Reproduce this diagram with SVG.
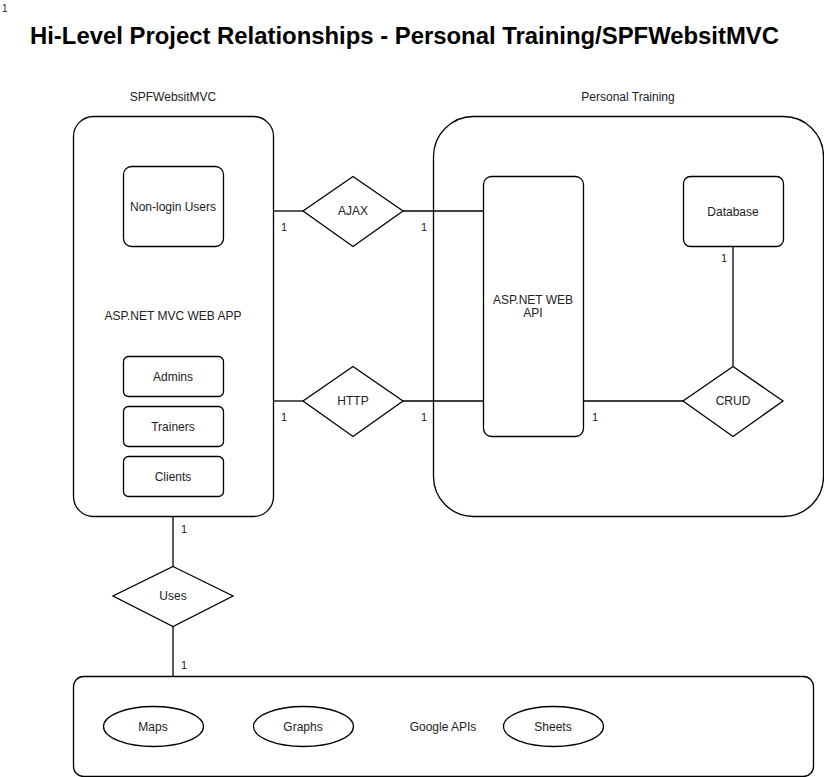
<svg xmlns="http://www.w3.org/2000/svg" width="824" height="777" viewBox="0 0 824 777">
<style>
.shape{fill:#fff;stroke:#000;stroke-width:1.3}
.line{fill:none;stroke:#000;stroke-width:1.3}
text{font-family:"Liberation Sans",Arial,sans-serif;font-size:12px;fill:#222}
.c{text-anchor:middle;dominant-baseline:central}
.lbl{font-size:11px}
.title{font-size:23px;font-weight:bold;fill:#000}
</style>
<rect width="824" height="777" fill="#fff"/>
<text x="2" y="12" class="lbl" style="font-size:10px">1</text>
<text x="30" y="44" class="title" textLength="749" lengthAdjust="spacingAndGlyphs">Hi-Level Project Relationships - Personal Training/SPFWebsitMVC</text>

<g id="spf">
<rect class="shape" x="73.5" y="116.5" width="200" height="400" rx="20"/>
<text x="173" y="97" class="c">SPFWebsitMVC</text>
<text x="173" y="316" class="c">ASP.NET MVC WEB APP</text>
</g>
<g id="nonlogin">
<rect class="shape" x="123.5" y="166.5" width="100" height="80" rx="8"/>
<text x="173" y="207" class="c">Non-login Users</text>
</g>
<g id="admins">
<rect class="shape" x="123.5" y="356.5" width="100" height="40" rx="5"/>
<text x="173" y="377" class="c">Admins</text>
</g>
<g id="trainers">
<rect class="shape" x="123.5" y="406.5" width="100" height="40" rx="5"/>
<text x="173" y="427" class="c">Trainers</text>
</g>
<g id="clients">
<rect class="shape" x="123.5" y="456.5" width="100" height="40" rx="5"/>
<text x="173" y="477" class="c">Clients</text>
</g>

<g id="personal">
<rect class="shape" x="433.5" y="116.5" width="390" height="400" rx="40"/>
<text x="628" y="97" class="c">Personal Training</text>
</g>

<g id="connectors">
<path class="line" d="M273 211H303"/>
<path class="line" d="M403 211H483"/>
<path class="line" d="M273 401H303"/>
<path class="line" d="M403 401H483"/>
<path class="line" d="M583 401H683"/>
<path class="line" d="M733 246V366"/>
<path class="line" d="M173 516V566"/>
<path class="line" d="M173 626V676"/>
<text x="284" y="227" class="c lbl">1</text>
<text x="424" y="227" class="c lbl">1</text>
<text x="284" y="417" class="c lbl">1</text>
<text x="424" y="417" class="c lbl">1</text>
<text x="595" y="417" class="c lbl">1</text>
<text x="724" y="258" class="c lbl">1</text>
<text x="184" y="529" class="c lbl">1</text>
<text x="184" y="665" class="c lbl">1</text>
</g>

<g id="webapi">
<rect class="shape" x="483.5" y="176.5" width="100" height="260" rx="8"/>
<text x="533" y="300" class="c">ASP.NET WEB</text>
<text x="533" y="313" class="c">API</text>
</g>
<g id="database">
<rect class="shape" x="683.5" y="176.5" width="100" height="70" rx="7"/>
<text x="733" y="212" class="c">Database</text>
</g>

<g id="ajax">
<polygon class="shape" points="353,176.5 403,211 353,246.5 303,211"/>
<text x="353" y="211" class="c">AJAX</text>
</g>
<g id="http">
<polygon class="shape" points="353,366.5 403,401 353,436.5 303,401"/>
<text x="353" y="401" class="c">HTTP</text>
</g>
<g id="crud">
<polygon class="shape" points="733,366.5 783,401 733,436.5 683,401"/>
<text x="733" y="401" class="c">CRUD</text>
</g>
<g id="uses">
<polygon class="shape" points="173,566.5 233,596 173,626.5 113,596"/>
<text x="173" y="596" class="c">Uses</text>
</g>

<g id="google">
<rect class="shape" x="73.5" y="676.5" width="740" height="100" rx="10"/>
<text x="443" y="727" class="c">Google APIs</text>
</g>
<g id="maps">
<ellipse class="shape" cx="153.5" cy="726.5" rx="50" ry="20"/>
<text x="153" y="727" class="c">Maps</text>
</g>
<g id="graphs">
<ellipse class="shape" cx="303.5" cy="726.5" rx="50" ry="20"/>
<text x="303" y="727" class="c">Graphs</text>
</g>
<g id="sheets">
<ellipse class="shape" cx="553.5" cy="726.5" rx="50" ry="20"/>
<text x="553" y="727" class="c">Sheets</text>
</g>
</svg>
